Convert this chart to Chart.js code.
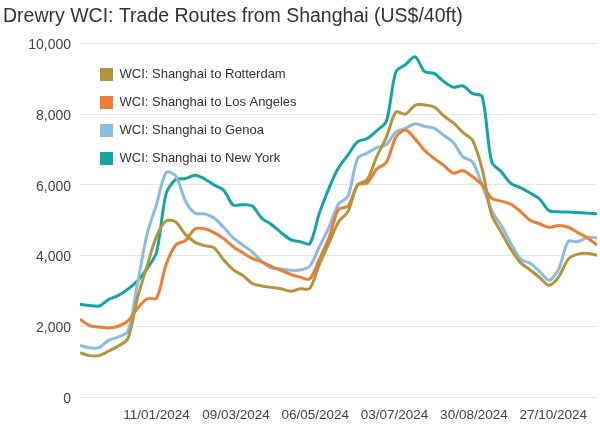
<!DOCTYPE html>
<html>
<head>
<meta charset="utf-8">
<title>Drewry WCI</title>
<script src="https://cdn.jsdelivr.net/npm/chart.js@4.4.1/dist/chart.umd.min.js"></script>
<style>
  body { margin: 0; background: #fff; }
  #wrap { width: 600px; height: 425px; }
</style>
</head>
<body>
<div id="wrap"><canvas id="wciChart" width="600" height="425"></canvas></div>
<script>
/* global Chart */

// weekly index dates (Thursdays)
var weeks = [
    '2023-11-16', '2023-11-23', '2023-11-30', '2023-12-07', '2023-12-14', '2023-12-21', '2023-12-28',
    '2024-01-04', '2024-01-11', '2024-01-18', '2024-01-25', '2024-02-01', '2024-02-08', '2024-02-15',
    '2024-02-22', '2024-02-29', '2024-03-07', '2024-03-14', '2024-03-21', '2024-03-28', '2024-04-04',
    '2024-04-11', '2024-04-18', '2024-04-25', '2024-05-02', '2024-05-09', '2024-05-16', '2024-05-23',
    '2024-05-30', '2024-06-06', '2024-06-13', '2024-06-20', '2024-06-27', '2024-07-04', '2024-07-11',
    '2024-07-18', '2024-07-25', '2024-08-01', '2024-08-08', '2024-08-15', '2024-08-22', '2024-08-29',
    '2024-09-05', '2024-09-12', '2024-09-19', '2024-09-26', '2024-10-03', '2024-10-10', '2024-10-17',
    '2024-10-24', '2024-10-31', '2024-11-07', '2024-11-14', '2024-11-21', '2024-11-28'
];

var tickLabels = ['11/01/2024', '09/03/2024', '06/05/2024', '03/07/2024', '30/08/2024', '27/10/2024'];
var yTicks = [0, 2000, 4000, 6000, 8000, 10000];

var routeNames = [
    'WCI: Shanghai to Rotterdam',
    'WCI: Shanghai to Los Angeles',
    'WCI: Shanghai to Genoa',
    'WCI: Shanghai to New York'
];

var rotterdam = [1250, 1170, 1170, 1300, 1440, 1650, 2800, 3700, 4550, 4980, 4950, 4600, 4380, 4280,
    4220, 3880, 3600, 3440, 3210, 3140, 3100, 3060, 2990, 3060, 3070, 3750, 4350, 4950, 5250, 6000,
    6150, 6800, 7350, 8060, 8000, 8250, 8260, 8200, 7950, 7750, 7480, 7260, 6450, 5150, 4660, 4180,
    3800, 3600, 3380, 3160, 3400, 3900, 4040, 4060, 4010];

var losAngeles = [2200, 2020, 1980, 1950, 2000, 2150, 2500, 2780, 2800, 3750, 4300, 4420, 4750, 4760,
    4650, 4480, 4250, 4080, 3920, 3820, 3690, 3580, 3470, 3390, 3340, 3900, 4500, 5300, 5400, 6000,
    6050, 6450, 6630, 7350, 7550, 7300, 6970, 6750, 6550, 6330, 6400, 6230, 6000, 5620, 5540, 5450,
    5250, 5000, 4900, 4800, 4850, 4800, 4650, 4500, 4300];

var genoa = [1460, 1390, 1400, 1600, 1700, 1850, 3200, 4600, 5450, 6350, 6250, 5550, 5200, 5180,
    5060, 4800, 4500, 4300, 4100, 3830, 3650, 3620, 3585, 3590, 3700, 4250, 4800, 5450, 5680, 6750,
    6900, 7050, 7140, 7500, 7600, 7730, 7650, 7600, 7400, 7200, 6790, 6650, 6000, 5270, 4850, 4350,
    3900, 3780, 3550, 3300, 3620, 4400, 4390, 4510, 4500];

var newYork = [2620, 2590, 2575, 2760, 2870, 3050, 3280, 3630, 4100, 5750, 6150, 6180, 6270, 6170,
    6000, 5850, 5430, 5440, 5400, 5050, 4880, 4650, 4450, 4390, 4330, 5200, 5900, 6480, 6850, 7220,
    7310, 7530, 7800, 9200, 9400, 9620, 9200, 9150, 8920, 8760, 8800, 8580, 8500, 6650, 6370, 6040,
    5920, 5770, 5600, 5270, 5240, 5230, 5220, 5200, 5180];

var routeColors = ['#B4943C', '#EC7D32', '#8ABCE1', '#13A4A4'];

function isoToDay(s) {
    var p = s.split('-');
    return Date.UTC(+p[0], +p[1] - 1, +p[2]) / 86400000;
}

function dmyToDay(s) {
    var p = s.split('/');
    return Date.UTC(+p[2], +p[1] - 1, +p[0]) / 86400000;
}

var tickDays = tickLabels.map(dmyToDay);

function points(values) {
    return values.map(function(v, i) {
        return { x: isoToDay(weeks[i]), y: v };
    });
}

function makeSet(idx, values) {
    return {
        label: routeNames[idx],
        data: points(values),
        borderColor: routeColors[idx],
        backgroundColor: routeColors[idx],
        borderWidth: 3,
        pointRadius: 0,
        tension: 0.3,
        fill: false
    };
}

// put the legend inside the plot, top-left, like the original
var legendNudge = {
    id: 'legendNudge',
    afterLayout: function(chart) {
        chart.legend.left = chart.chartArea.left + 5;
        chart.legend.top = 53;
    }
};

Chart.defaults.font.family = "'Liberation Sans', Arial, sans-serif";
Chart.defaults.color = '#444';

var ctx = document.getElementById('wciChart').getContext('2d');
var wciChart = new Chart(ctx, {
    type: 'line',
    data: {
        datasets: [
            makeSet(0, rotterdam),
            makeSet(1, losAngeles),
            makeSet(2, genoa),
            makeSet(3, newYork)
        ]
    },
    options: {
        responsive: false,
        animation: false,
        layout: { padding: { left: 3, right: 3, top: 0, bottom: 0 } },
        plugins: {
            title: {
                display: true,
                text: 'Drewry WCI: Trade Routes from Shanghai (US$/40ft)',
                align: 'start',
                color: '#333',
                font: { size: 19.5, weight: 'normal' },
                padding: { top: 5, bottom: 15 }
            },
            legend: {
                position: 'chartArea',
                align: 'start',
                labels: {
                    boxWidth: 13,
                    boxHeight: 13,
                    padding: 15,
                    color: '#333',
                    font: { size: 13 },
                    generateLabels: function(chart) {
                        var items = Chart.defaults.plugins.legend.labels.generateLabels(chart);
                        items.forEach(function(it) { it.lineWidth = 0; });
                        return items;
                    }
                }
            },
            tooltip: { enabled: false }
        },
        scales: {
            x: {
                type: 'linear',
                min: isoToDay(weeks[0]),
                max: isoToDay(weeks[weeks.length - 1]),
                grid: { display: false, drawTicks: false },
                border: { display: false },
                afterBuildTicks: function(axis) {
                    axis.ticks = tickDays.map(function(d) { return { value: d }; });
                },
                afterFit: function(axis) { axis.height = 28; },
                ticks: {
                    autoSkip: false,
                    maxRotation: 0,
                    padding: 10,
                    color: '#444',
                    font: { size: 13.5 },
                    callback: function(value) {
                        var i = tickDays.indexOf(value);
                        return i >= 0 ? tickLabels[i] : '';
                    }
                }
            },
            y: {
                min: yTicks[0],
                max: yTicks[yTicks.length - 1],
                grid: { color: '#e6e6e6', drawTicks: false },
                border: { display: false },
                afterBuildTicks: function(axis) {
                    axis.ticks = yTicks.map(function(v) { return { value: v }; });
                },
                afterFit: function(axis) { axis.width = 77; },
                ticks: {
                    padding: 9,
                    labelOffset: 2,
                    color: '#444',
                    font: { size: 14 },
                    callback: function(value) {
                        return value.toLocaleString('en-US');
                    }
                }
            }
        }
    },
    plugins: [legendNudge]
});
</script>
</body>
</html>
